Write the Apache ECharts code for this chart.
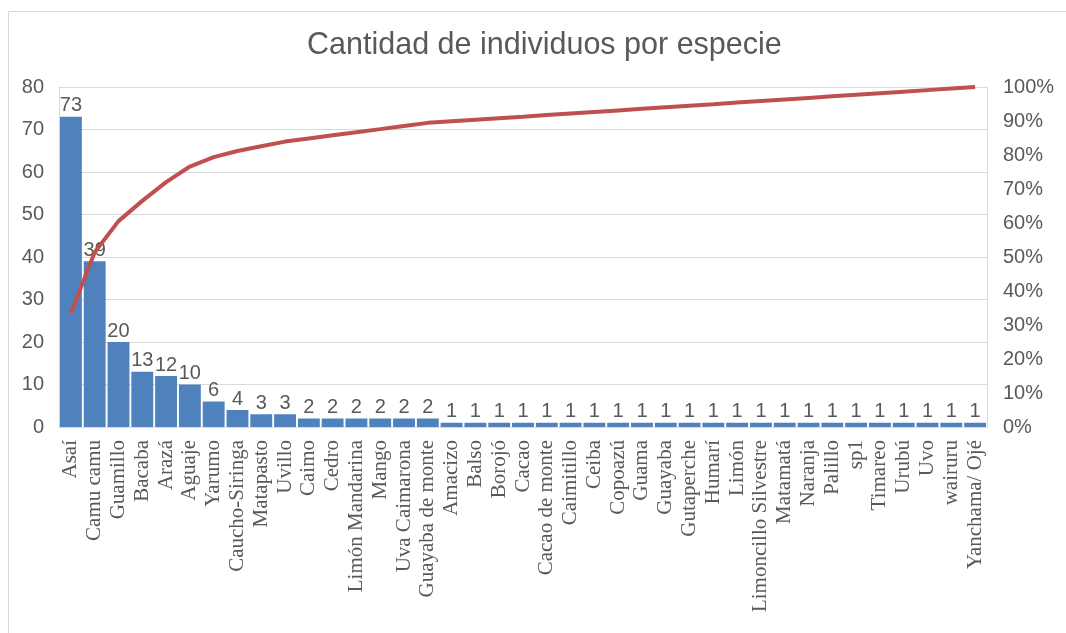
<!DOCTYPE html>
<html>
<head>
<meta charset="utf-8">
<script src="https://cdn.jsdelivr.net/npm/echarts@6/dist/echarts.min.js"></script>
<style>
html,body{margin:0;padding:0;background:#fff;}
#c{width:1066px;height:633px;}
</style>
</head>
<body>
<div id="c"></div>
<script>
const categories = ["Asaí","Camu camu","Guamillo","Bacaba","Arazá","Aguaje","Yarumo","Caucho-Siringa","Matapasto","Uvillo","Caimo","Cedro","Limón Mandarina","Mango","Uva Caimarona","Guayaba de monte","Amacizo","Balso","Borojó","Cacao","Cacao de monte","Caimitillo","Ceiba","Copoazú","Guama","Guayaba","Gutaperche","Humarí","Limón","Limoncillo Silvestre","Matamatá","Naranja","Palillo","sp1","Timareo","Urubú","Uvo","wairuru","Yanchama/ Ojé"];
const counts = [73,39,20,13,12,10,6,4,3,3,2,2,2,2,2,2,1,1,1,1,1,1,1,1,1,1,1,1,1,1,1,1,1,1,1,1,1,1,1];
const cumulativePct = [33.49,51.38,60.55,66.51,72.02,76.61,79.36,81.19,82.57,83.94,84.86,85.78,86.70,87.61,88.53,89.45,89.91,90.37,90.83,91.28,91.74,92.20,92.66,93.12,93.58,94.04,94.50,94.95,95.41,95.87,96.33,96.79,97.25,97.71,98.17,98.62,99.08,99.54,100];
const leftTicks = {min:0, max:80, interval:10};
const rightTicks = {min:0, max:100, interval:10};

const chart = echarts.init(document.getElementById('c'), null, {renderer:'canvas'});
const sans = '"Liberation Sans", Arial, sans-serif';
chart.setOption({
  animation:false,
  backgroundColor:'#ffffff',
  title:{
    text:'Cantidad de individuos por especie',
    left:302, top:25,
    textStyle:{fontFamily:sans, fontSize:30.5, fontWeight:'normal', color:'#595959'}
  },
  graphic:[{
    type:'rect', silent:true, z:-1,
    shape:{x:8.5, y:11.5, width:1100, height:700},
    style:{fill:'none', stroke:'#d9d9d9', lineWidth:1}
  }],
  grid:{left:59, right:79, top:87, bottom:206, containLabel:false},
  xAxis:{
    type:'category', data:categories,
    axisLine:{show:true, lineStyle:{color:'#d9d9d9'}},
    axisTick:{show:false},
    axisLabel:{rotate:90, interval:0, margin:13, fontFamily:'"Liberation Serif",serif', fontSize:21, color:'#595959'}
  },
  yAxis:[{
    type:'value', min:leftTicks.min, max:leftTicks.max, interval:leftTicks.interval,
    axisLine:{show:true, lineStyle:{color:'#d9d9d9'}},
    axisTick:{show:false},
    splitLine:{show:true, lineStyle:{color:'#d9d9d9', width:1}},
    axisLabel:{margin:15, fontFamily:sans, fontSize:20, color:'#595959'}
  },{
    type:'value', position:'right', min:rightTicks.min, max:rightTicks.max, interval:rightTicks.interval,
    axisLine:{show:true, lineStyle:{color:'#d9d9d9'}},
    axisTick:{show:false},
    splitLine:{show:false},
    axisLabel:{margin:16, fontFamily:sans, fontSize:20, color:'#595959', formatter:'{value}%'}
  }],
  series:[{
    type:'bar', data:counts, yAxisIndex:0,
    barCategoryGap:'8%',
    itemStyle:{color:'#4f81bd'},
    label:{show:true, position:'top', distance:1, fontFamily:sans, fontSize:20, color:'#595959'}
  },{
    type:'line', data:cumulativePct, yAxisIndex:1,
    symbol:'none', smooth:false,
    lineStyle:{color:'#c0504d', width:4}
  }]
});
</script>
</body>
</html>
